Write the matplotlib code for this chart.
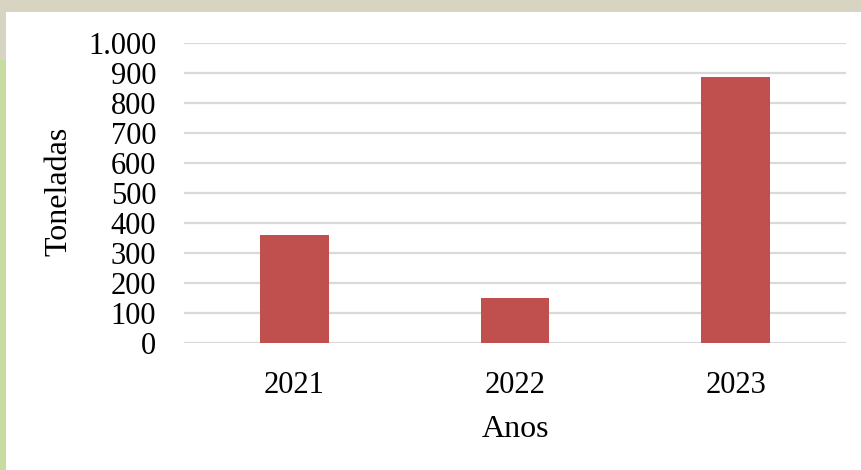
import matplotlib.pyplot as plt
from matplotlib.patches import Rectangle

plt.rcParams['font.family'] = ['Liberation Serif', 'DejaVu Serif']

# dados
anos = ['2021', '2022', '2023']
toneladas = [361, 149, 886]
yticks = [0, 100, 200, 300, 400, 500, 600, 700, 800, 900, 1000]
ytick_labels = ['0', '100', '200', '300', '400', '500', '600', '700', '800', '900', '1.000']

fig = plt.figure(figsize=(8.61, 4.70), dpi=100)
fig.patch.set_facecolor('#d8d4c2')

# fundo branco do gráfico
fig.patches.append(Rectangle((6 / 861, 0), 1 - 6 / 861, 1 - 12 / 470,
                             transform=fig.transFigure, facecolor='white',
                             edgecolor='none', zorder=-10))
fig.patches.append(Rectangle((0, 0), 6 / 861, 1 - 60 / 470,
                             transform=fig.transFigure, facecolor='#c9dc9f',
                             edgecolor='none', zorder=-10))

ax = fig.add_axes([184 / 861, 1 - 343 / 470, 662 / 861, 300 / 470])
ax.set_facecolor('none')

x = range(len(anos))
ax.bar(x, toneladas, width=0.31, color='#c0504d', zorder=3)

ax.set_xlim(-0.5, len(anos) - 0.5)
ax.set_ylim(0, 1000)
ax.set_yticks(yticks)
ax.set_yticklabels(ytick_labels)
ax.set_xticks(list(x))
ax.set_xticklabels(anos)

ax.grid(axis='y', color='#d9d9d9', linewidth=1.6, zorder=0)
for s in ax.spines.values():
    s.set_visible(False)
ax.tick_params(axis='both', length=0, labelsize=22)
ax.tick_params(axis='y', pad=20)
ax.tick_params(axis='x', pad=20)

ax.set_xlabel('Anos', fontsize=23)
ax.set_ylabel('Toneladas', fontsize=23)
ax.xaxis.set_label_coords(0.5, -0.24)
ax.yaxis.set_label_coords(-0.167, 0.507)

fig.savefig('out.png', dpi=100, facecolor=fig.get_facecolor())
